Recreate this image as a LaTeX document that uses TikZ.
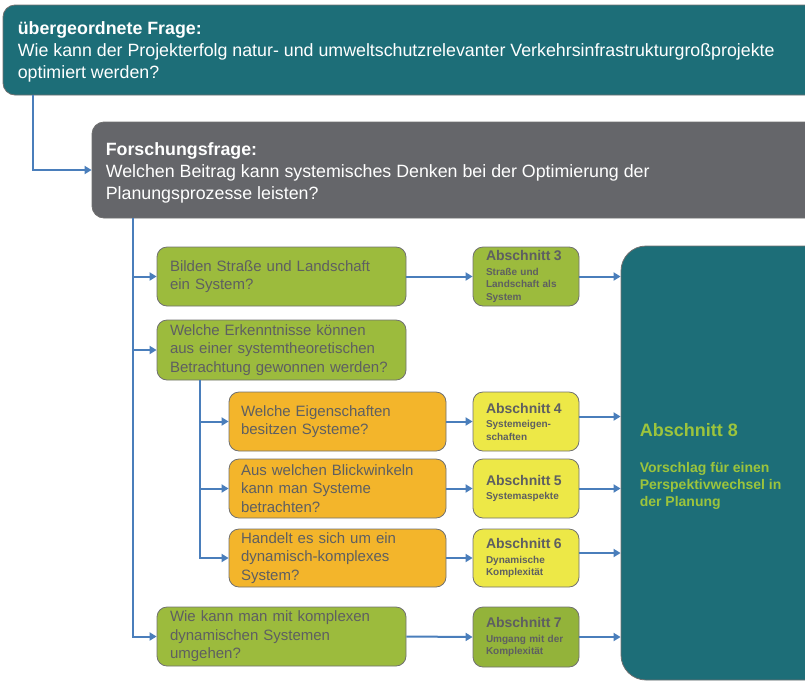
\documentclass[tikz,border=0pt]{standalone}
\usepackage{fontspec}
\setmainfont{Liberation Sans}
\usetikzlibrary{arrows.meta}
\definecolor{cteal}{HTML}{1D6E78}
\definecolor{cgray}{HTML}{65666A}
\definecolor{cgreen}{HTML}{9CBB3D}
\definecolor{cgreendark}{HTML}{93B33A}
\definecolor{corange}{HTML}{F3B52B}
\definecolor{cyellow}{HTML}{EDE847}
\definecolor{ctext}{HTML}{5E5F61}
\definecolor{cborder}{HTML}{707070}
\definecolor{cblue}{HTML}{4A7EBB}
\definecolor{clabel}{HTML}{9CC43C}
\begin{document}
\begin{tikzpicture}[x=1pt,y=-1pt,
  box/.style={draw=cborder, line width=0.8pt, rounded corners=10pt, inner ysep=0pt, align=left, anchor=center},
  bigq/.style={draw=cborder, line width=0.8pt, rounded corners=12pt, inner sep=0pt},
  bigtext/.style={anchor=west, align=left, inner sep=0pt, text=white, font=\fontsize{17.8}{22.3}\selectfont},
  qbox/.style={box, text=ctext, minimum height=59pt, font=\fontsize{15}{18.5}\selectfont},
  greenbox/.style={qbox, fill=cgreen, inner xsep=13pt, text width=223pt},
  orangebox/.style={qbox, fill=corange, inner xsep=12pt, text width=193pt},
  secbox/.style={box, text=ctext, minimum height=59pt, inner xsep=13pt, text width=80pt, font=\bfseries\fontsize{10}{12.5}\selectfont},
  arr/.style={draw=cblue, line width=2pt, -{Triangle[length=7pt,width=8pt]}}
]
\useasboundingbox (0,0) rectangle (805,681);

% top question boxes
\node[bigq, fill=cteal, minimum width=827pt, minimum height=90pt] (top) at (416.5,50) {};
\node[bigtext] (toptext) at ([xshift=15pt,yshift=-2pt]top.west)
  {\textbf{übergeordnete Frage:}\\Wie kann der Projekterfolg natur- und umweltschutzrelevanter Verkehrsinfrastrukturgroßprojekte\\optimiert werden?};
\node[bigq, fill=cgray, minimum width=738pt, minimum height=96pt] (gray) at (461,170) {};
\node[bigtext] (graytext) at ([xshift=14pt,yshift=-3pt]gray.west)
  {\textbf{Forschungsfrage:}\\Welchen Beitrag kann systemisches Denken bei der Optimierung der\\Planungsprozesse leisten?};

% question boxes
\node[greenbox] (b1) at (281.5,276.5) {Bilden Straße und Landschaft\\ein System?};
\node[greenbox, minimum height=60pt] (b2) at (281.5,350) {Welche Erkenntnisse können\\aus einer systemtheoretischen\\Betrachtung gewonnen werden?};
\node[orangebox] (o4) at (337.5,421.5) {Welche Eigenschaften\\besitzen Systeme?};
\node[orangebox] (o5) at (337.5,488.5) {Aus welchen Blickwinkeln\\kann man Systeme\\betrachten?};
\node[orangebox, minimum height=58pt] (o6) at (337.5,558) {Handelt es sich um ein\\dynamisch-komplexes\\System?};
\node[greenbox] (b7) at (281.5,636.5) {Wie kann man mit komplexen\\dynamischen Systemen\\umgehen?};

% section boxes
\node[secbox, fill=cgreen] (a3) at (526,276.5) {{\fontsize{14}{16}\selectfont Abschnitt 3}\\[2pt]Straße und\\Landschaft als\\System};
\node[secbox, fill=cyellow] (a4) at (526,421.5) {{\fontsize{14}{16}\selectfont Abschnitt 4}\\[2pt]Systemeigen-\\schaften};
\node[secbox, fill=cyellow] (a5) at (526,488.5) {{\fontsize{14}{16}\selectfont Abschnitt 5}\\[2pt]Systemaspekte};
\node[secbox, fill=cyellow, minimum height=58pt] (a6) at (526,558) {{\fontsize{14}{16}\selectfont Abschnitt 6}\\[2pt]Dynamische\\Komplexität};
\node[secbox, fill=cgreendark, minimum height=60pt] (a7) at (526,637) {{\fontsize{14}{16}\selectfont Abschnitt 7}\\[2pt]Umgang mit der\\Komplexität};

% result box
\node[box, fill=cteal, rounded corners=25pt, minimum width=209pt, minimum height=434pt, inner sep=0pt] (a8) at (725.5,463) {};
\node[anchor=west, align=left, inner sep=0pt, text=clabel, font=\bfseries\fontsize{14}{16.7}\selectfont] (a8text)
  at ([xshift=19pt,yshift=-3pt]a8.west)
  {{\fontsize{18}{22}\selectfont Abschnitt 8}\\[20pt]Vorschlag für einen\\Perspektivwechsel in\\der Planung};

% spines
\coordinate (s1) at (33,0);
\coordinate (s2) at (133,0);
\coordinate (s3) at (200,0);

\draw[arr] (top.south -| s1) |- (gray.west);

\draw[arr] (gray.south -| s2) |- (b7.west);
\draw[arr] (s2 |- b1.west) -- (b1.west);
\draw[arr] (s2 |- b2.west) -- (b2.west);

\draw[arr] (b2.south -| s3) |- (o6.west);
\draw[arr] (s3 |- o4.west) -- (o4.west);
\draw[arr] (s3 |- o5.west) -- (o5.west);

% question -> section
\draw[arr] (b1.east) -- (a3.west);
\draw[arr] (o4.east) -- (a4.west);
\draw[arr] (o5.east) -- (a5.west);
\draw[arr] (o6.east) -- (a6.west);
\draw[arr] (b7.east) -- (a7.west);

% section -> result
\draw[arr] (a3.east) -- (a3.east -| a8.west);
\draw[arr] ([yshift=5pt]a4.east) -- ([yshift=5pt]a4.east -| a8.west);
\draw[arr] (a5.east) -- (a5.east -| a8.west);
\draw[arr] ([yshift=5pt]a6.east) -- ([yshift=5pt]a6.east -| a8.west);
\draw[arr] (a7.east) -- (a7.east -| a8.west);
\end{tikzpicture}
\end{document}
